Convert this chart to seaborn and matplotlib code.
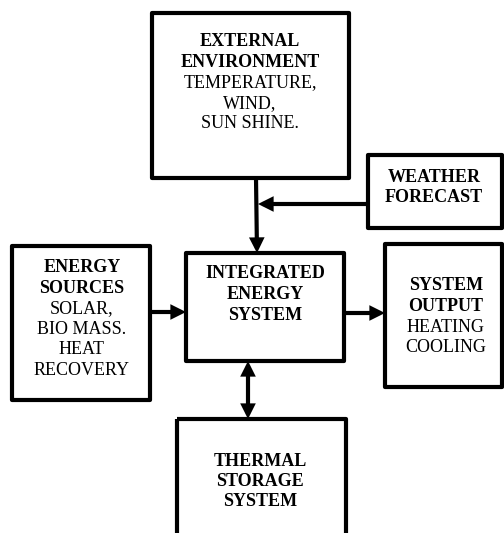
import matplotlib
matplotlib.use("Agg")
import matplotlib.pyplot as plt
import seaborn as sns
from matplotlib.patches import Rectangle, FancyArrowPatch

# =====================================================================
# DIAGRAM CONTENT
# =====================================================================
box_names = ["external", "weather", "sources", "integrated", "output", "storage"]

external_lines = ["EXTERNAL", "ENVIRONMENT", "TEMPERATURE,", "WIND,", "SUN SHINE."]
external_bold = [True, True, False, False, False]

weather_lines = ["WEATHER", "FORECAST"]
weather_bold = [True, True]

sources_lines = ["ENERGY", "SOURCES", "SOLAR,", "BIO MASS.", "HEAT", "RECOVERY"]
sources_bold = [True, True, False, False, False, False]

integrated_lines = ["INTEGRATED", "ENERGY", "SYSTEM"]
integrated_bold = [True, True, True]

output_lines = ["SYSTEM", "OUTPUT", "HEATING", "COOLING"]
output_bold = [True, True, False, False]

storage_lines = ["THERMAL", "STORAGE", "SYSTEM"]
storage_bold = [True, True, True]

# =====================================================================
# LAYOUT (pixel space, y grows downward)
# =====================================================================
# box: (left, top, right, bottom)
layout = {
    "external":   (152, 13, 349, 178),
    "weather":    (368, 155, 502, 228),
    "sources":    (12, 246, 150, 400),
    "integrated": (186, 253, 344, 361),
    "output":     (385, 244, 502, 387),
    "storage":    (177, 419, 346, 550),
}
# text centre x and first-line y for each box
text_anchor = {
    "external":   (250, 42),
    "weather":    (434, 177),
    "sources":    (82, 268),
    "integrated": (265, 274),
    "output":     (446, 286),
    "storage":    (260, 461),
}
line_step = 20.5

contents = {
    "external": (external_lines, external_bold),
    "weather": (weather_lines, weather_bold),
    "sources": (sources_lines, sources_bold),
    "integrated": (integrated_lines, integrated_bold),
    "output": (output_lines, output_bold),
    "storage": (storage_lines, storage_bold),
}

sns.set_style("white")
plt.rcParams["font.family"] = ["Liberation Serif", "DejaVu Serif"]

fig = plt.figure(figsize=(5.04, 5.33), dpi=100)
ax = fig.add_axes([0, 0, 1, 1])
ax.set_xlim(0, 504)
ax.set_ylim(533, 0)
ax.axis("off")

lw = 3.0

# Boxes and their text
for name in box_names:
    l, t, r, b = layout[name]
    ax.add_patch(Rectangle((l, t), r - l, b - t, fill=False, clip_on=False,
                           edgecolor="black", linewidth=lw, joinstyle="round"))
    lines, bold = contents[name]
    cx, y0 = text_anchor[name]
    for i, (txt, is_bold) in enumerate(zip(lines, bold)):
        ax.text(cx, y0 + i * line_step, txt, ha="center", va="center",
                fontsize=13, fontweight="bold" if is_bold else "normal",
                color="black")


def arrow(start, end, style="-|>"):
    ax.add_patch(FancyArrowPatch(start, end, arrowstyle=style,
                                 mutation_scale=16, linewidth=lw,
                                 color="black", shrinkA=0, shrinkB=0,
                                 joinstyle="miter", capstyle="butt"))


# Connectors
arrow((256, 178), (257, 253))            # external -> integrated
arrow((368, 204), (258, 204))            # weather -> trunk line
arrow((150, 312), (186, 312))            # sources -> integrated
arrow((344, 313), (385, 313))            # integrated -> output
arrow((248, 361), (248, 419), "<|-|>")   # integrated <-> storage

fig.savefig("out.png", dpi=100)
